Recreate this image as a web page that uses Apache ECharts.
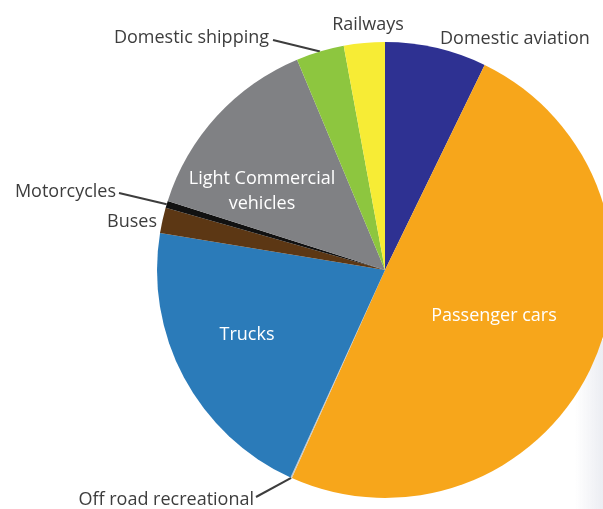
<!DOCTYPE html>
<html>
<head>
<meta charset="utf-8">
<script src="https://cdn.jsdelivr.net/npm/echarts@6/dist/echarts.min.js"></script>
<style>html,body{margin:0;padding:0;background:#fff}#c{width:603px;height:509px}</style>
</head>
<body>
<div id="c"></div>
<script>
const categories = ['Domestic aviation','Passenger cars','Off road recreational','Trucks','Buses','Motorcycles','Light Commercial\nvehicles','Domestic shipping','Railways'];
const values = [7.2, 49.5, 0.1, 20.8, 1.8, 0.5, 13.8, 3.4, 2.9];
const colors = ['#2e3192','#f7a61b','#c8c8c8','#2b7bb9','#5c3714','#111111','#808184','#8dc63f','#f7ec35'];
const insideLabel = [false,true,false,true,false,false,true,false,false];
const showLine = [false,false,true,false,false,true,false,true,false];
// label placement (styling)
const labelPos = [
  {x:440,y:39,align:'left'},
  {x:494,y:316,align:'center'},
  {x:254,y:500,align:'right',lx:256,ly:497},
  {x:247,y:335,align:'center'},
  {x:157,y:222,align:'right'},
  {x:116,y:192,align:'right',lx:119,ly:193},
  {x:262,y:191,align:'center'},
  {x:269,y:38,align:'right',lx:273,ly:40},
  {x:368,y:25,align:'center'}
];
const chart = echarts.init(document.getElementById('c'), null, {renderer:'canvas'});
chart.setOption({
  animation:false,
  graphic:[{
    type:'rect', z:-10, silent:true,
    shape:{x:575,y:340,width:28,height:169},
    style:{fill:new echarts.graphic.LinearGradient(0,0,1,0,[{offset:0,color:'rgba(232,234,240,0)'},{offset:1,color:'rgba(232,234,240,0.85)'}])}
  }],
  series:[{
    type:'pie',
    center:[385,270],
    radius:228,
    startAngle:90,
    clockwise:true,
    avoidLabelOverlap:false,
    label:{show:true,position:'outside',fontFamily:'Open Sans',fontSize:18,color:'#3d3d3d',lineHeight:25},
    labelLine:{show:true,length:10,length2:10,lineStyle:{color:'#3d3d3d',width:2}},
    labelLayout:function(params){
      const i = params.dataIndex, p = labelPos[i];
      const r = {x:p.x,y:p.y,align:p.align,verticalAlign:'middle'};
      if (showLine[i] && params.labelLinePoints) {
        r.labelLinePoints = [params.labelLinePoints[0],[p.lx,p.ly],[p.lx,p.ly]];
      }
      return r;
    },
    data: categories.map((n,i)=>({
      name:n, value:values[i],
      itemStyle:{color:colors[i]},
      label: insideLabel[i] ? {color:'#ffffff'} : {},
      labelLine:{show:showLine[i]}
    }))
  }]
});
</script>
</body>
</html>
